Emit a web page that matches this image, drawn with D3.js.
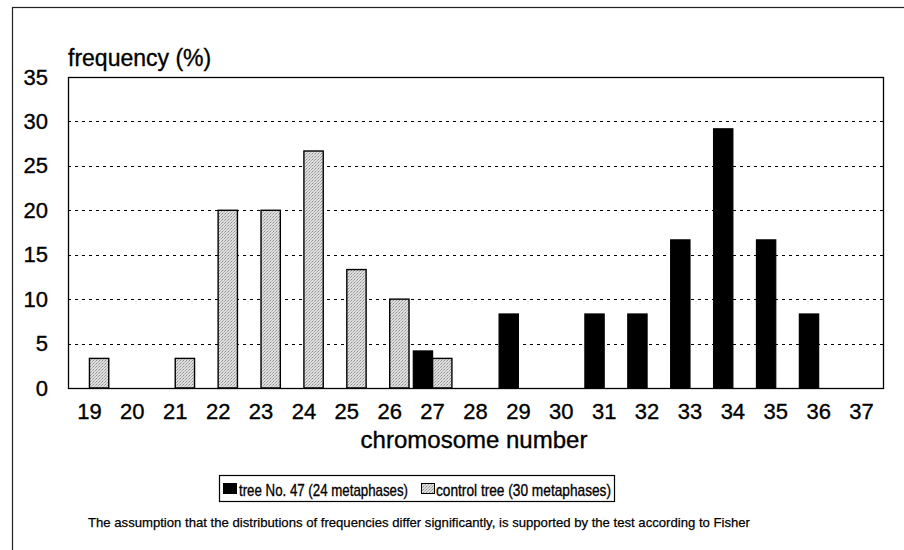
<!DOCTYPE html>
<html>
<head>
<meta charset="utf-8">
<script src="https://cdn.jsdelivr.net/npm/d3@7"></script>
<style>
  html, body { margin: 0; padding: 0; background: #fff; }
  svg { display: block; font-family: "Liberation Sans", Arial, sans-serif; }
</style>
</head>
<body>
<svg id="chart" width="904" height="550"></svg>
<script>
const categories = ["19","20","21","22","23","24","25","26","27","28","29","30","31","32","33","34","35","36","37"];
const treeValues    = [0,0,0,0,0,0,0,0,4.17,0,8.33,0,8.33,8.33,16.67,29.17,16.67,8.33,0];
const controlValues = [3.33,0,3.33,20,20,26.67,13.33,10,3.33,0,0,0,0,0,0,0,0,0,0];
const yTicks = [0,5,10,15,20,25,30,35];
const seriesNames = ["tree No. 47 (24 metaphases)", "control tree (30 metaphases)"];
const yTitle = "frequency (%)";
const xTitle = "chromosome number";
const footnote = "The assumption that the distributions of frequencies differ significantly, is supported by the test according to Fisher";

const svg = d3.select("#chart");
const plot = {left: 68, top: 77, right: 883, bottom: 388};
const heavy = sel => sel.attr("stroke", "#000").attr("stroke-width", 0.35).attr("fill", "#000");

// outer frame (extends beyond the picture on right/bottom)
svg.append("rect").attr("x", 12.5).attr("y", 7.5).attr("width", 1000).attr("height", 1000)
  .attr("fill", "none").attr("stroke", "#222").attr("stroke-width", 1.2);

// pattern for grey stippled bars
const defs = svg.append("defs");
const pat = defs.append("pattern").attr("id", "stipple").attr("patternUnits", "userSpaceOnUse")
  .attr("width", 3).attr("height", 3);
pat.append("rect").attr("width", 3).attr("height", 3).attr("fill", "#dedede");
pat.append("rect").attr("x", 0).attr("y", 0).attr("width", 1).attr("height", 1).attr("fill", "#8e8e8e");
pat.append("rect").attr("x", 2).attr("y", 1).attr("width", 1).attr("height", 1).attr("fill", "#a8a8a8");
pat.append("rect").attr("x", 1).attr("y", 2).attr("width", 1).attr("height", 1).attr("fill", "#b8b8b8");

const x = d3.scaleBand().domain(categories).range([plot.left, plot.right]).paddingInner(0).paddingOuter(0);
const y = d3.scaleLinear().domain([0, 35]).range([plot.bottom, plot.top]);
const bw = x.bandwidth() * 0.45;

// gridlines
svg.append("g").selectAll("line").data(yTicks.filter(t => t > 0 && t < 35)).join("line")
  .attr("x1", plot.left).attr("x2", plot.right)
  .attr("y1", d => Math.round(y(d)) + 0.5).attr("y2", d => Math.round(y(d)) + 0.5)
  .attr("stroke", "#000").attr("stroke-width", 1).attr("stroke-dasharray", "3,4");

// bars
const gBars = svg.append("g");
gBars.selectAll("rect.tree").data(categories.map((c, i) => ({c, v: treeValues[i]})).filter(d => d.v > 0))
  .join("rect").attr("class", "tree")
  .attr("x", d => x(d.c) + x.bandwidth() / 2 - bw)
  .attr("y", d => y(d.v)).attr("width", bw).attr("height", d => y(0) - y(d.v))
  .attr("fill", "#000").attr("stroke", "#000").attr("stroke-width", 1.2);
gBars.selectAll("rect.ctrl").data(categories.map((c, i) => ({c, v: controlValues[i]})).filter(d => d.v > 0))
  .join("rect").attr("class", "ctrl")
  .attr("x", d => x(d.c) + x.bandwidth() / 2)
  .attr("y", d => y(d.v)).attr("width", bw).attr("height", d => y(0) - y(d.v))
  .attr("fill", "url(#stipple)").attr("stroke", "#000").attr("stroke-width", 1.4);

// plot border
svg.append("rect").attr("x", plot.left + 0.5).attr("y", plot.top + 0.5)
  .attr("width", plot.right - plot.left).attr("height", plot.bottom - plot.top)
  .attr("fill", "none").attr("stroke", "#000").attr("stroke-width", 1.3);

// y axis labels
const yAxis = d3.axisLeft(y).tickValues(yTicks).tickSize(0).tickPadding(20);
const gy = svg.append("g").attr("transform", `translate(${plot.left},0)`).call(yAxis);
gy.select(".domain").remove();
gy.selectAll("text").attr("font-size", 22).attr("font-family", "Liberation Sans, Arial, sans-serif").call(heavy);

// x axis labels
const xAxis = d3.axisBottom(x).tickSize(0).tickPadding(15);
const gx = svg.append("g").attr("transform", `translate(0,${plot.bottom})`).call(xAxis);
gx.select(".domain").remove();
gx.selectAll("text").attr("font-size", 22).attr("font-family", "Liberation Sans, Arial, sans-serif").call(heavy);

// titles
svg.append("text").attr("x", plot.left).attr("y", 66).attr("font-size", 23).text(yTitle).call(heavy);
svg.append("text").attr("x", 474).attr("y", 448).attr("text-anchor", "middle").attr("font-size", 24).text(xTitle).call(heavy);

// legend
const lg = svg.append("g");
lg.append("rect").attr("x", 219.5).attr("y", 475.5).attr("width", 395).attr("height", 26)
  .attr("fill", "#fff").attr("stroke", "#000").attr("stroke-width", 1.2);
lg.append("rect").attr("x", 223).attr("y", 483).attr("width", 14).attr("height", 11).attr("fill", "#000");
lg.append("text").attr("x", 239).attr("y", 495.5).attr("font-size", 17).attr("textLength", 169)
  .attr("lengthAdjust", "spacingAndGlyphs").text(seriesNames[0]).call(heavy);
lg.append("rect").attr("x", 421.5).attr("y", 483.5).attr("width", 13).attr("height", 10)
  .attr("fill", "url(#stipple)").attr("stroke", "#000").attr("stroke-width", 1);
lg.append("text").attr("x", 436).attr("y", 495.5).attr("font-size", 17).attr("textLength", 175)
  .attr("lengthAdjust", "spacingAndGlyphs").text(seriesNames[1]).call(heavy);

// footnote
svg.append("text").attr("x", 88).attr("y", 527).attr("font-size", 13.5)
  .attr("font-family", "Liberation Sans Narrow, Liberation Sans, Arial, sans-serif")
  .attr("textLength", 662).attr("lengthAdjust", "spacingAndGlyphs").text(footnote)
  .attr("stroke", "#000").attr("stroke-width", 0.25);
</script>
</body>
</html>
